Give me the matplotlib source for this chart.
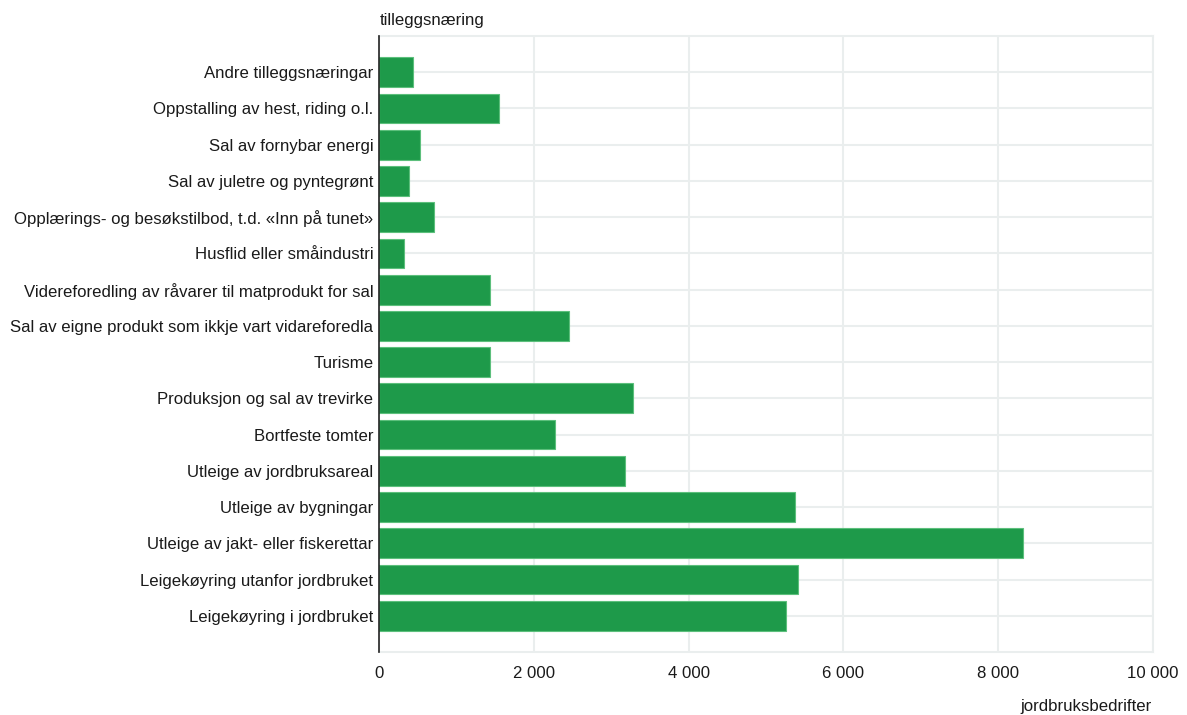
import matplotlib
matplotlib.use("Agg")
import matplotlib.pyplot as plt
import numpy as np

plt.rcParams['font.family'] = ['Liberation Sans', 'DejaVu Sans']

categories = [
    "Andre tilleggsnæringar",
    "Oppstalling av hest, riding o.l.",
    "Sal av fornybar energi",
    "Sal av juletre og pyntegrønt",
    "Opplærings- og besøkstilbod, t.d. «Inn på tunet»",
    "Husflid eller småindustri",
    "Videreforedling av råvarer til matprodukt for sal",
    "Sal av eigne produkt som ikkje vart vidareforedla",
    "Turisme",
    "Produksjon og sal av trevirke",
    "Bortfeste tomter",
    "Utleige av jordbruksareal",
    "Utleige av bygningar",
    "Utleige av jakt- eller fiskerettar",
    "Leigekøyring utanfor jordbruket",
    "Leigekøyring i jordbruket",
]
values = [443, 1545, 533, 391, 714, 323, 1436, 2452, 1436, 3281, 2275, 3178,
          5372, 8314, 5410, 5252]
xticks = [0, 2000, 4000, 6000, 8000, 10000]
xtick_labels = ["0", "2 000", "4 000", "6 000", "8 000", "10 000"]

fig = plt.figure(figsize=(11.87, 7.15), dpi=100)
ax = fig.add_axes([379/1187, 1-652/715, (1153-379)/1187, (652-36)/715])

y = np.arange(len(categories))
ax.barh(y, values, height=0.82, color="#1e9a4a", edgecolor="#5cbf7c",
        linewidth=0.8, zorder=3)

ax.set_xlim(0, 10000)
ax.set_ylim(len(categories), -1)
ax.set_yticks(y)
ax.set_yticklabels(categories, fontsize=12.1, color="#1a1a1a")
ax.set_xticks(xticks)
ax.set_xticklabels(xtick_labels, fontsize=12.1, color="#1a1a1a")
ax.tick_params(axis='both', length=0)
ax.tick_params(axis='x', pad=10)
ax.tick_params(axis='y', pad=4)

ax.grid(True, color="#eaeeee", linewidth=1.5, zorder=0)
ax.set_axisbelow(True)
for s in ["top", "bottom", "right"]:
    ax.spines[s].set_color("#eaeeee")
    ax.spines[s].set_linewidth(1.5)
ax.spines["left"].set_color("#222222")
ax.spines["left"].set_linewidth(1.2)
ax.spines["left"].set_zorder(4)

fig.text(380/1187, 1-20/715, "tilleggsnæring", fontsize=12.1, color="#1a1a1a",
         ha="left", va="center")
fig.text(1152/1187, 1-706/715, "jordbruksbedrifter", fontsize=12.1, color="#1a1a1a",
         ha="right", va="center")

fig.savefig("out.png", dpi=100, facecolor="white")
